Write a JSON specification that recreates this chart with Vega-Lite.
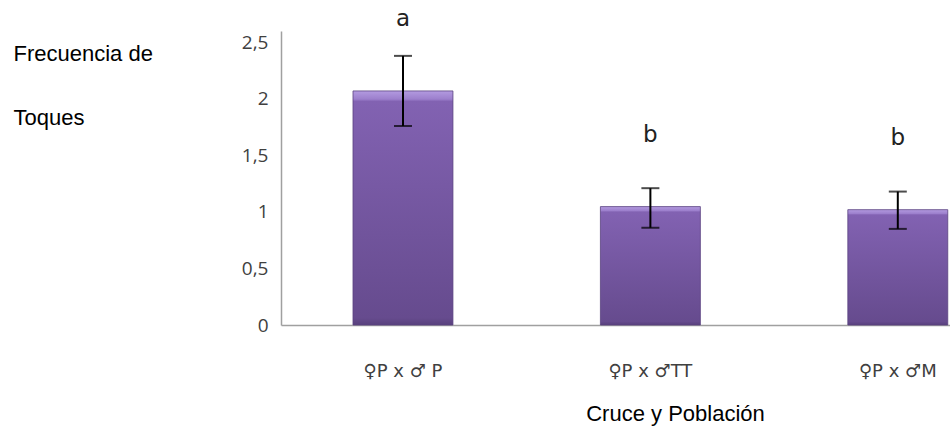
{
  "$schema": "https://vega.github.io/schema/vega-lite/v6.json",
  "autosize": "none",
  "padding": {"left": 281, "top": 31, "right": 0, "bottom": 105},
  "width": 669,
  "height": 294,
  "background": "white",
  "config": {"view": {"stroke": null}},
  "data": {"values": [
    {"cruce": "♀P x ♂ P", "media": 2.07, "low": 1.76, "high": 2.38, "letra": "a"},
    {"cruce": "♀P x ♂TT", "media": 1.047, "low": 0.86, "high": 1.21, "letra": "b"},
    {"cruce": "♀P x ♂M", "media": 1.02, "low": 0.85, "high": 1.18, "letra": "b"}
  ]},
  "encoding": {
    "x": {
      "field": "cruce", "type": "nominal", "sort": null,
      "scale": {"paddingInner": 0.596, "paddingOuter": 0.15, "align": 0.97},
      "axis": {
        "labelAngle": 0, "ticks": false, "domainColor": "#a0a0a0", "domainWidth": 1.5,
        "labelFont": "DejaVu Sans", "labelFontSize": 18, "labelColor": "#404040",
        "labelBaseline": "alphabetic", "labelPadding": 51,
        "title": "Cruce y Población", "titleFont": "Liberation Sans", "titleFontSize": 22,
        "titleFontWeight": "normal", "titleColor": "#000000", "titleX": 394, "titleY": 95, "titleAnchor": "middle", "titleBaseline": "alphabetic"
      }
    }
  },
  "layer": [
    {
      "mark": {"type": "bar", "stroke": "#5a4280", "strokeWidth": 0.8,
        "color": {"gradient": "linear", "x1": 0, "y1": 0, "x2": 0, "y2": 1,
          "stops": [
            {"offset": 0, "color": "#b39be0"},
            {"offset": 0.035, "color": "#9c7fcc"},
            {"offset": 0.045, "color": "#8262b2"},
            {"offset": 0.97, "color": "#664b8e"},
            {"offset": 1, "color": "#58407c"}
          ]}},
      "encoding": {
        "y": {"field": "media", "type": "quantitative",
          "scale": {"domain": [0, 2.5]},
          "axis": {
            "values": [0, 0.5, 1, 1.5, 2, 2.5], "grid": false, "ticks": false,
            "domainColor": "#a0a0a0", "domainWidth": 1.5,
            "labelExpr": "replace(format(datum.value, '~g'), '.', ',')",
            "labelFont": "Open Sans", "labelFontSize": 19, "labelColor": "#404040", "labelPadding": 13,
            "title": ["Frecuencia de", "Toques"], "titleAngle": 0, "titleAlign": "left",
            "titleFont": "Liberation Sans", "titleFontSize": 22, "titleFontWeight": "normal", "titleColor": "#000000",
            "titleX": -268, "titleY": 29, "titleBaseline": "alphabetic", "titleLineHeight": 64
          }
        }
      }
    },
    {
      "mark": {"type": "rule", "color": "#000000", "strokeWidth": 2},
      "encoding": {"y": {"field": "low", "type": "quantitative"}, "y2": {"field": "high"}}
    },
    {
      "mark": {"type": "tick", "color": "#000000", "thickness": 2, "size": 18, "orient": "horizontal"},
      "encoding": {"y": {"field": "low", "type": "quantitative"}}
    },
    {
      "mark": {"type": "tick", "color": "#000000", "thickness": 2, "size": 18, "orient": "horizontal"},
      "encoding": {"y": {"field": "high", "type": "quantitative"}}
    },
    {
      "mark": {"type": "text", "dy": -65, "baseline": "alphabetic", "font": "DejaVu Sans", "fontSize": 23, "color": "#222222"},
      "encoding": {"y": {"field": "media", "type": "quantitative"}, "text": {"field": "letra"}}
    }
  ]
}
